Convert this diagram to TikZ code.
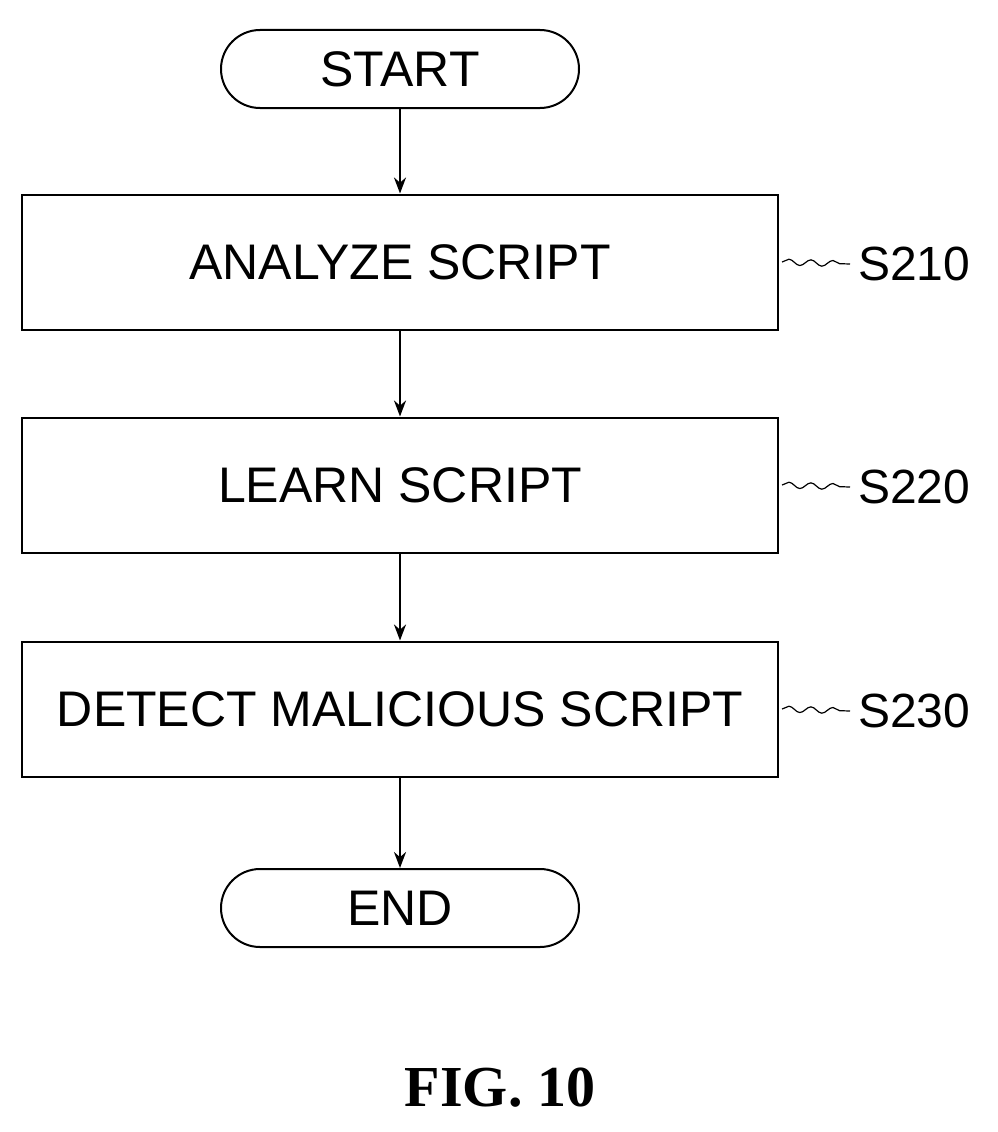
\documentclass[tikz,border=0pt]{standalone}
\usepackage{fontspec}
\setmainfont{Liberation Sans}
\usetikzlibrary{arrows.meta,decorations.pathmorphing}
\begin{document}
\begin{tikzpicture}[x=1pt,y=-1pt,
  box/.style={draw,line width=2pt,minimum width=756pt,minimum height=135pt,inner sep=0pt,font=\fontsize{50}{56}\selectfont},
  term/.style={draw,line width=2pt,rounded corners=39pt,minimum width=358pt,minimum height=78pt,inner sep=0pt,font=\fontsize{50}{56}\selectfont},
  arr/.style={line width=2.5pt,-{Stealth[length=16pt,width=12pt]}},
  lab/.style={font=\fontsize{48}{54}\selectfont,anchor=west,inner sep=0pt},
  sq/.style={line width=1.2pt,decorate,decoration={snake,amplitude=3pt,segment length=22pt}}]
\useasboundingbox (0,0) rectangle (998,1132);
\node[term] (start) at (400,69) {START};
\node[box] (b1) at (400,262) {ANALYZE SCRIPT};
\node[box] (b2) at (400,485) {LEARN SCRIPT};
\node[box] (b3) at (400,709) {DETECT MALICIOUS SCRIPT};
\node[term] (end) at (400,908) {END};
\draw[arr] (start) -- (b1);
\draw[arr] (b1) -- (b2);
\draw[arr] (b2) -- (b3);
\draw[arr] (b3) -- (end);
\node[lab] (l1) at (858,264) {S210};
\node[lab] (l2) at (858,487) {S220};
\node[lab] (l3) at (858,711) {S230};
\coordinate (c1) at (782,262); \coordinate (c2) at (782,485); \coordinate (c3) at (782,709);
\draw[sq] (c1) -- ([xshift=-8pt]l1.west);
\draw[sq] (c2) -- ([xshift=-8pt]l2.west);
\draw[sq] (c3) -- ([xshift=-8pt]l3.west);
\node[font=\fontspec{Liberation Serif}\bfseries\fontsize{58}{64}\selectfont] (fig) at (500,1088) {FIG. 10};
\end{tikzpicture}
\end{document}
